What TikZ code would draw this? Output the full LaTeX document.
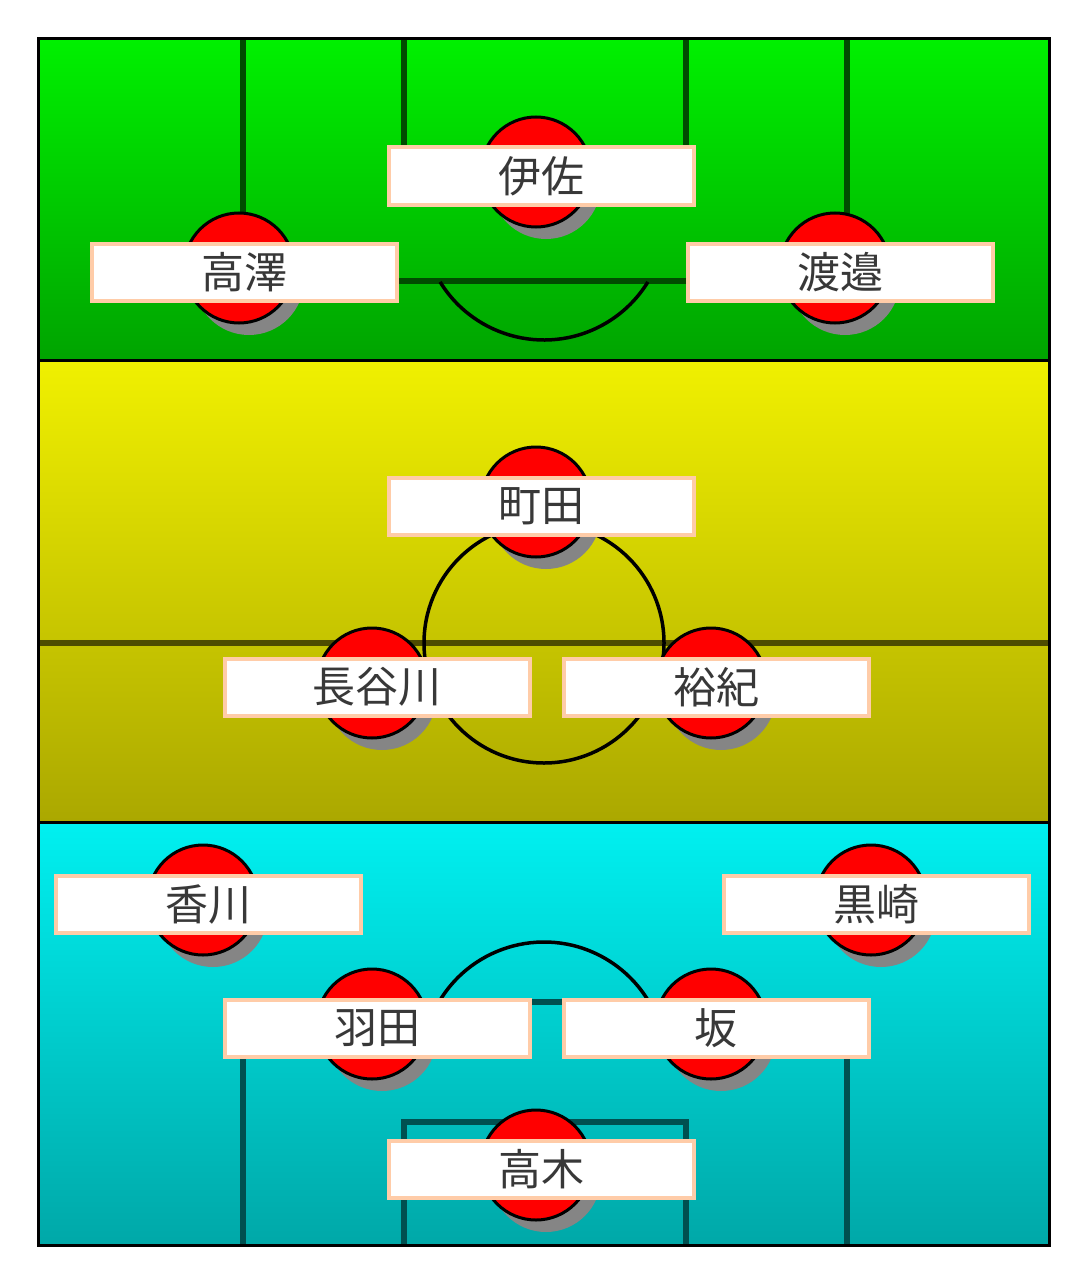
\documentclass[tikz,border=0pt]{standalone}
\usepackage{fontspec}
\usepackage{xcolor}
\usepackage{tikz}
\newfontfamily\jp{Noto Sans CJK JP}
\definecolor{verthaut}{HTML}{00F000}
\definecolor{vertbas}{HTML}{00A400}
\definecolor{jaunehaut}{HTML}{F0F000}
\definecolor{jaunebas}{HTML}{ABA800}
\definecolor{cyanhaut}{HTML}{00F0F0}
\definecolor{cyanbas}{HTML}{00A8A8}
\definecolor{ligneverte}{HTML}{004C00}
\definecolor{lignejaune}{HTML}{4E4C00}
\definecolor{lignecyan}{HTML}{005050}
\definecolor{peche}{HTML}{FFCCA8}
\definecolor{texte}{HTML}{383838}
\definecolor{ombre}{HTML}{858585}
\tikzset{
  etiquette/.style={draw=peche, line width=4pt, fill=white, inner sep=0pt,
    minimum width=305pt, minimum height=57pt, text=texte,
    font=\jp\fontsize{43}{50}\selectfont},
  pion/.style={draw=black, line width=3pt, fill=red},
  trait/.style={line width=5.5pt},
}

\begin{document}
\begin{tikzpicture}[x=1pt, y=-1pt]
    \useasboundingbox (0,0) rectangle (1080,1276);

    % Fonds en degrade
    \shade[top color=verthaut, bottom color=vertbas] (40,40) rectangle (1048,359);
    \shade[top color=jaunehaut, bottom color=jaunebas] (40,361) rectangle (1048,821);
    \shade[top color=cyanhaut, bottom color=cyanbas] (40,823) rectangle (1048,1245);

    % Surface du haut
    \draw[trait, ligneverte] (243,40) -- (243,281) -- (847,281) -- (847,40);
    \draw[trait, ligneverte] (404,40) -- (404,163) -- (686,163) -- (686,40);
    \draw[line width=3.5pt] (544,218) ++(148.4:122) arc[start angle=148.4, end angle=31.6, radius=122];

    % Ligne mediane et rond central
    \draw[trait, lignejaune] (40,643) -- (1048,643);
    \draw[line width=3.5pt] (544,643) circle[radius=120];

    % Surface du bas
    \draw[trait, lignecyan] (243,1245) -- (243,1002) -- (847,1002) -- (847,1245);
    \draw[trait, lignecyan] (404,1245) -- (404,1122) -- (686,1122) -- (686,1245);
    \draw[line width=3.5pt] (544,1064) ++(210.5:122) arc[start angle=210.5, end angle=329.5, radius=122];

    % Cadre et separations
    \draw[line width=3pt] (40,360) -- (1048,360);
    \draw[line width=3pt] (40,822) -- (1048,822);
    \draw[line width=3pt] (38.5,38.5) rectangle (1049.5,1245.5);

    % Joueurs
    \foreach \px/\py/\etiq [count=\i] in {536/172/伊佐, 239/268/高澤, 835/268/渡邉,
        536/502/町田, 372/683/長谷川, 711/683/裕紀,
        203/900/香川, 871/900/黒崎, 372/1024/羽田, 711/1024/坂, 536/1165/高木} {
      \fill[ombre] (\px+10,\py+12) circle[radius=55];
      \draw[pion] (\px,\py) circle[radius=55];
      \node[etiquette] (joueur\i) at (\px+5,\py+4) {\etiq};
    }
\end{tikzpicture}
\end{document}
